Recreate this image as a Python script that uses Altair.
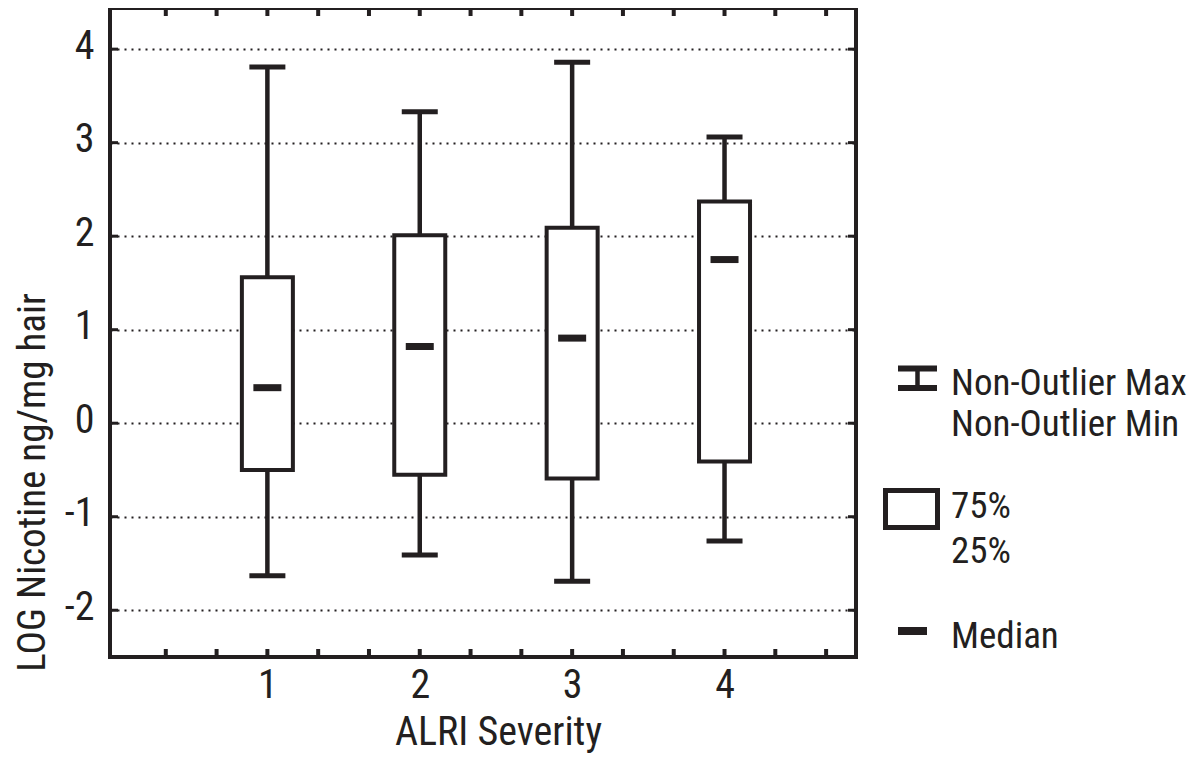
import altair as alt
import pandas as pd

# ---- data ----
severity = [1, 2, 3, 4]
whisker_max = [3.81, 3.33, 3.86, 3.06]
q75 = [1.56, 2.01, 2.09, 2.37]
medians = [0.38, 0.82, 0.91, 1.75]
q25 = [-0.50, -0.55, -0.59, -0.41]
whisker_min = [-1.63, -1.41, -1.69, -1.26]

y_ticks = [-2, -1, 0, 1, 2, 3, 4]
x_labels = [1, 2, 3, 4]
x_minor = [1/3, 2/3, 1, 4/3, 5/3, 2, 7/3, 8/3, 3, 10/3, 11/3, 4, 13/3, 14/3]

df = pd.DataFrame({
    "sev": severity, "max": whisker_max, "q3": q75,
    "med": medians, "q1": q25, "min": whisker_min,
})
ydf = pd.DataFrame({"v": y_ticks})
xdf = pd.DataFrame({"t": x_minor})

FONT = "Roboto Condensed, Liberation Sans Narrow, DejaVu Sans Condensed, sans-serif"
FS = 40
LFS = 37
INK = "#231f20"
W, H = 746, 649

xs = alt.Scale(domain=[0, 4.83], nice=False, zero=False)
ys = alt.Scale(domain=[-2.5, 4.44], nice=False, zero=False)

X = alt.X("sev:Q", scale=xs, axis=alt.Axis(
    values=x_labels, grid=False, ticks=False, domain=False,
    labelExpr="'' + datum.value",
    labelFont=FONT, labelFontSize=FS, labelColor=INK, labelPadding=8,
    title="ALRI Severity", titleFont=FONT, titleFontSize=FS,
    titleFontWeight="normal", titleColor=INK,
    titleX=388, titleY=87, titleBaseline="alphabetic", titleAlign="center"))

Yaxis = alt.Axis(
    values=y_ticks, grid=True, gridDash=[2, 5], gridWidth=2, gridColor=INK,
    ticks=False, domain=False, labelExpr="'' + datum.value",
    labelFont=FONT, labelFontSize=FS, labelColor=INK, labelPadding=16,
    labelOffset=-3,
    title="LOG Nicotine ng/mg hair", titleFont=FONT, titleFontSize=39,
    titleFontWeight="normal", titleColor=INK, titleAngle=270,
    titleX=-66, titleY=474, titleBaseline="alphabetic", titleAlign="center")

base = alt.Chart(df)

box = base.mark_bar(size=51, fill="white", stroke=INK, strokeWidth=4,
                    orient="vertical").encode(
    x=X, y=alt.Y("q1:Q", scale=ys, axis=Yaxis), y2="q3:Q")

whisk_up = base.mark_rule(color=INK, strokeWidth=4.5).encode(
    x=alt.X("sev:Q", scale=xs), y=alt.Y("q3:Q", scale=ys), y2="max:Q")
whisk_dn = base.mark_rule(color=INK, strokeWidth=4.5).encode(
    x=alt.X("sev:Q", scale=xs), y=alt.Y("min:Q", scale=ys), y2="q1:Q")

cap_up = base.mark_tick(orient="horizontal", size=36, thickness=5,
                        color=INK, opacity=1).encode(
    x=alt.X("sev:Q", scale=xs), y=alt.Y("max:Q", scale=ys))
cap_dn = base.mark_tick(orient="horizontal", size=36, thickness=5,
                        color=INK, opacity=1).encode(
    x=alt.X("sev:Q", scale=xs), y=alt.Y("min:Q", scale=ys))
med = base.mark_tick(orient="horizontal", size=28, thickness=7,
                     color=INK, opacity=1).encode(
    x=alt.X("sev:Q", scale=xs), y=alt.Y("med:Q", scale=ys))

# inward frame ticks
yt = alt.Chart(ydf)
tick_l = yt.mark_rule(color=INK, strokeWidth=3).encode(
    x=alt.value(0), x2=alt.value(8), y=alt.Y("v:Q", scale=ys))
tick_r = yt.mark_rule(color=INK, strokeWidth=3).encode(
    x=alt.value(W - 8), x2=alt.value(W), y=alt.Y("v:Q", scale=ys))
xt = alt.Chart(xdf)
tick_b = xt.mark_rule(color=INK, strokeWidth=4).encode(
    x=alt.X("t:Q", scale=xs), y=alt.value(H - 8), y2=alt.value(H))
tick_t = xt.mark_rule(color=INK, strokeWidth=4).encode(
    x=alt.X("t:Q", scale=xs), y=alt.value(0), y2=alt.value(8))

# custom legend
one = alt.Data(values=[{"k": 0}])
L = alt.Chart(one)
leg = [
    L.mark_rule(color=INK, strokeWidth=6).encode(
        x=alt.value(788), x2=alt.value(827), y=alt.value(360.5)),
    L.mark_rule(color=INK, strokeWidth=6).encode(
        x=alt.value(788), x2=alt.value(827), y=alt.value(380)),
    L.mark_rule(color=INK, strokeWidth=4.5).encode(
        x=alt.value(807.5), y=alt.value(360), y2=alt.value(380)),
    L.mark_rect(fill="white", stroke=INK, strokeWidth=5).encode(
        x=alt.value(775.5), x2=alt.value(827.5),
        y=alt.value(482.5), y2=alt.value(519.5)),
    L.mark_rect(fill=INK).encode(
        x=alt.value(788), x2=alt.value(817),
        y=alt.value(619), y2=alt.value(627)),
]
for txt, yy in [("Non-Outlier Max", 387), ("Non-Outlier Min", 428),
                ("75%", 510), ("25%", 555), ("Median", 640)]:
    leg.append(L.mark_text(text=txt, font=FONT, fontSize=LFS, color=INK,
                           align="left", baseline="alphabetic").encode(
        x=alt.value(841), y=alt.value(yy)))

chart = alt.layer(box, whisk_up, whisk_dn, cap_up, cap_dn, med,
                  tick_l, tick_r, tick_b, tick_t, *leg).properties(
    width=W, height=H,
    autosize=alt.AutoSizeParams(type="none"),
    padding={"left": 102, "top": 0, "right": 336, "bottom": 96},
).configure(
    background="white",
    view=alt.ViewConfig(stroke=INK, strokeWidth=4),
)

chart.save("out.html", embed_options={"renderer": "svg", "actions": False})
